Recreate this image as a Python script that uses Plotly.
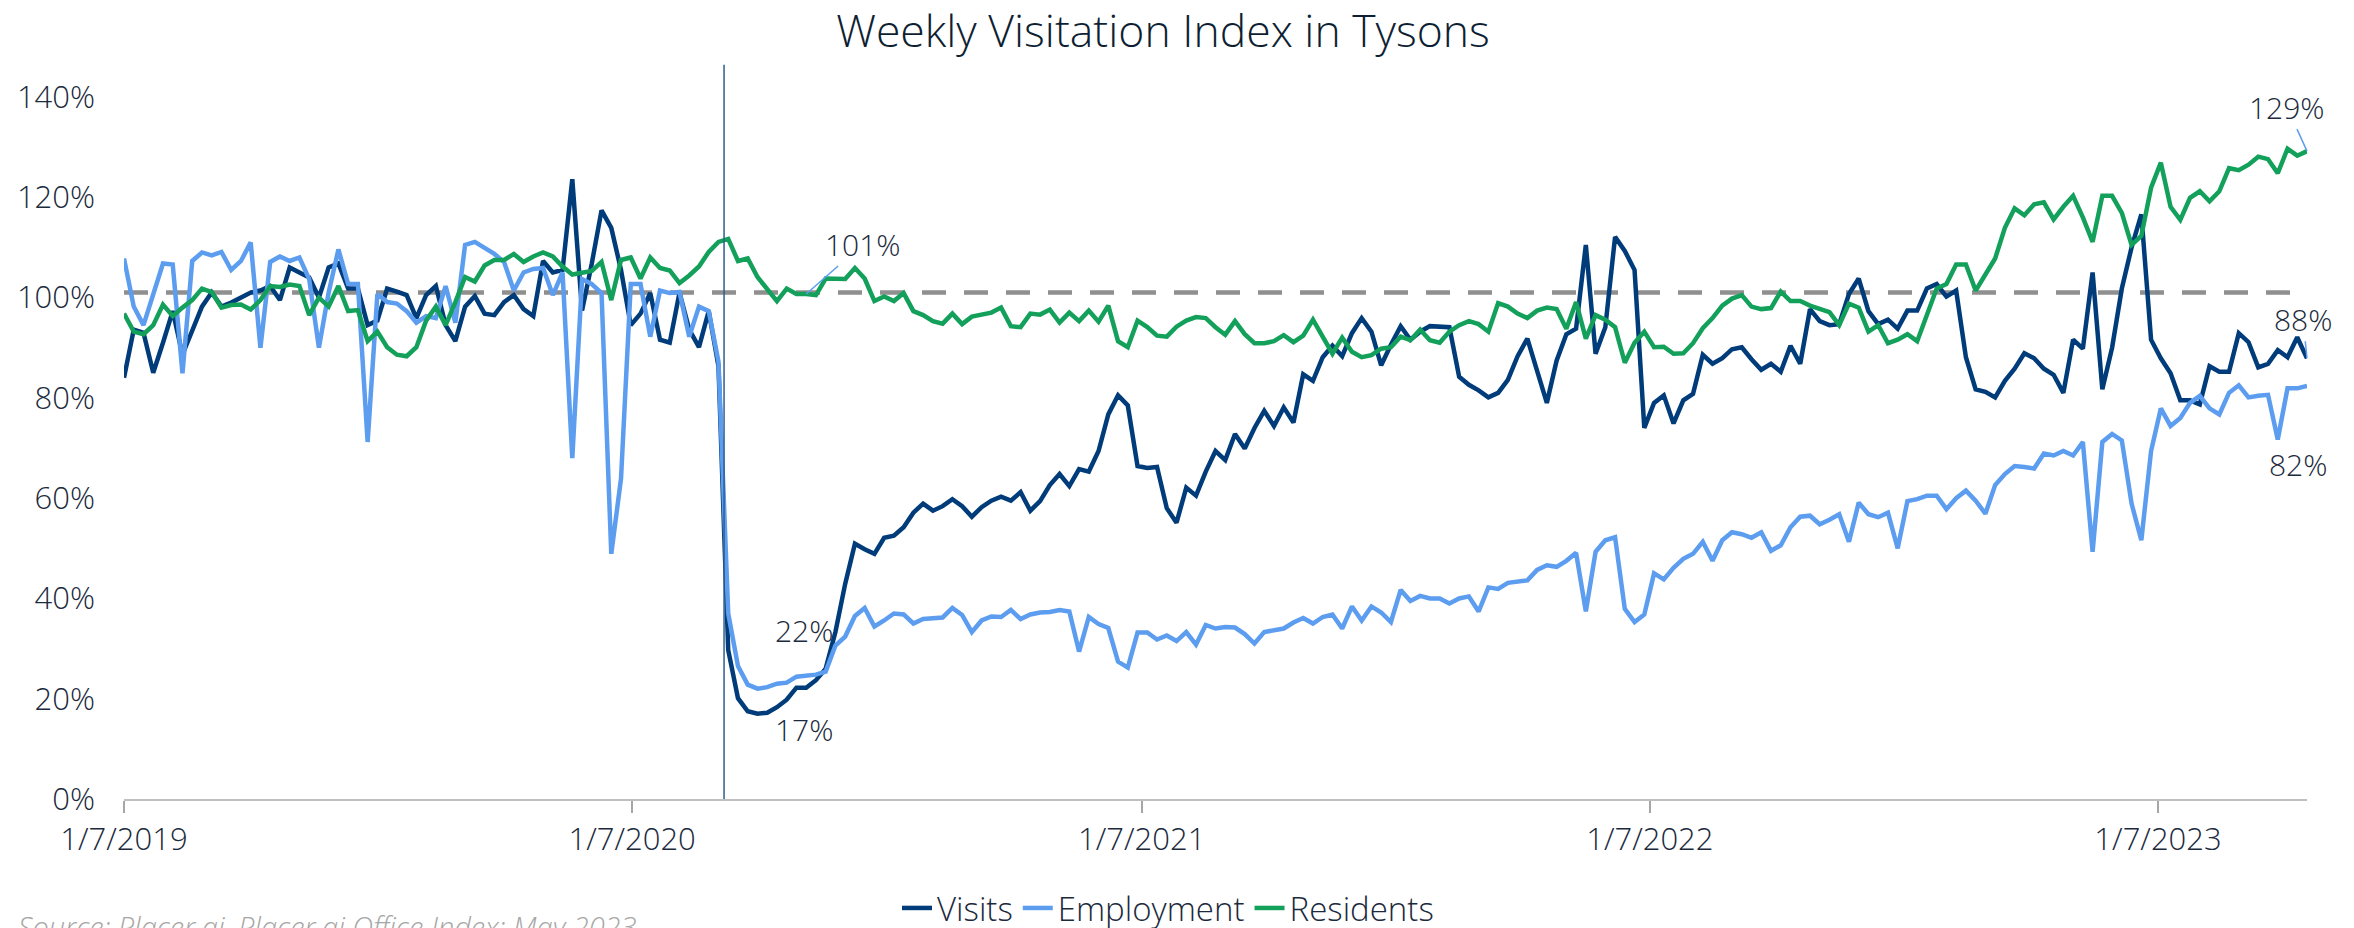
import pandas as pd
import plotly.graph_objects as go

START_DATE = "2019-01-07"

VISITS = [
    84, 93.6, 93, 85, 91, 97.3, 88.6, 93.6, 98.2, 101, 98.2, 99, 100, 101, 101.4, 102.3, 99.5, 106, 105, 104,
    100, 106, 106.8, 101.8, 101.8, 94.5, 95.4, 101.8, 101.2, 100.5, 95.9, 100.5, 102.3, 94.5, 91.3, 98.2, 100.3, 96.8, 96.5, 99.1,
    100.5, 97.7, 96.3, 107.3, 105, 105.5, 123.6, 97.4, 106.8, 117.4, 113.9, 105.5, 94.5, 96.8, 100.9, 91.6, 91, 101, 93.6, 90.1,
    97.3, 86.3, 29.7, 20.1, 17.5, 17, 17.2, 18.3, 19.8, 22.2, 22.2, 23.7, 26, 33.3, 42.9, 50.9, 49.8, 48.9, 52.1, 52.5,
    54.2, 57.1, 58.9, 57.5, 58.4, 59.8, 58.4, 56.3, 58.2, 59.5, 60.3, 59.5, 61.2, 57.5, 59.4, 62.6, 64.8, 62.4, 65.8, 65.3,
    69.4, 76.7, 80.5, 78.5, 66.4, 66, 66.2, 58, 55.1, 62.1, 60.5, 65.3, 69.4, 67.6, 72.8, 69.9, 74, 77.4, 74.4, 78.1,
    75.1, 84.7, 83.4, 88.1, 90.4, 88.3, 92.9, 95.9, 93.2, 86.5, 90.6, 94.3, 91.6, 93.2, 94.3, 94.1, 94.1, 84.2, 82.6, 81.5,
    80.1, 81, 83.6, 88.3, 91.8, 85.4, 79, 87.4, 92.7, 93.8, 110.5, 88.8, 94.1, 112.1, 109.3, 105.5, 74, 79, 80.5, 74.9,
    79.5, 80.8, 88.6, 86.8, 87.9, 89.7, 90.1, 87.7, 85.6, 86.8, 85.2, 90.4, 86.8, 97.7, 95.3, 94.5, 94.7, 100.7, 103.8, 97.3,
    94.7, 95.6, 93.8, 97.4, 97.4, 101.8, 102.7, 100.2, 101.4, 88.1, 81.7, 81.2, 80.1, 83.4, 85.8, 88.9, 87.9, 85.8, 84.6, 81,
    91.6, 89.8, 105, 81.7, 90, 101.8, 110, 116.6, 91.6, 87.9, 84.9, 79.5, 79.5, 78.7, 86.3, 85.2, 85.2, 92.9, 91.1, 86.1,
    86.8, 89.5, 88.1, 92.1, 87.9,
]

EMPLOYMENT = [
    107.8, 98.2, 94.5, 100.9, 106.8, 106.6, 84.9, 107.3, 109, 108.4, 109.1, 105.5, 107.3, 111, 90, 107.1, 108.2, 107.3, 108, 103.7,
    90, 101, 109.6, 102.7, 102.7, 71.2, 100.7, 99.1, 98.8, 97.3, 95, 96.3, 95.9, 102.3, 95, 110.5, 111.1, 109.9, 108.7, 107.1,
    101.4, 105, 105.7, 105.9, 100.5, 105, 68, 103.7, 102.7, 100.9, 48.9, 63.9, 102.7, 102.7, 92.2, 101.4, 100.9, 101.1, 92.2, 98.2,
    97.3, 87.2, 37, 26.5, 22.8, 22, 22.3, 23, 23.2, 24.4, 24.5, 24.8, 25.4, 30.6, 32.4, 36.5, 38.1, 34.4, 35.6, 37,
    36.8, 35, 35.9, 36.1, 36.2, 38.1, 36.7, 33.3, 35.6, 36.4, 36.3, 37.7, 35.9, 36.8, 37.2, 37.3, 37.7, 37.4, 29.4, 36.3,
    34.9, 34.1, 27.4, 26.2, 33.2, 33.2, 31.8, 32.6, 31.5, 33.3, 30.8, 34.7, 34, 34.3, 34.2, 32.9, 31, 33.3, 33.6, 34,
    35.2, 36.1, 35, 36.3, 36.8, 34, 38.4, 35.6, 38.4, 37.2, 35.3, 41.7, 39.5, 40.5, 40, 40, 39, 40, 40.4, 37.4,
    42.2, 41.9, 43.1, 43.3, 43.6, 45.7, 46.6, 46.3, 47.5, 49.1, 37.4, 49.3, 51.6, 52.2, 37.9, 35.3, 36.8, 45, 43.8, 46.1,
    47.9, 48.9, 51.3, 47.5, 51.6, 53.2, 52.8, 52.1, 53.2, 49.5, 50.6, 54.2, 56.3, 56.5, 54.8, 55.7, 56.8, 51.3, 59.1, 56.8,
    56.2, 57.1, 50, 59.4, 59.8, 60.5, 60.5, 57.8, 60, 61.5, 59.5, 56.9, 62.6, 64.8, 66.4, 66.2, 65.9, 68.9, 68.5, 69.4,
    68.5, 71.2, 49.3, 71.2, 72.8, 71.5, 58.9, 51.6, 69.4, 77.9, 74.4, 76, 79, 80.4, 77.9, 76.7, 81, 82.5, 80.1, 80.4,
    80.6, 71.7, 81.9, 81.9, 82.4,
]

RESIDENTS = [
    96.8, 93.2, 92.7, 94.5, 98.6, 96.3, 98, 99.5, 101.8, 101.1, 98, 98.5, 98.6, 97.6, 99.5, 102.3, 102.1, 102.6, 102.3, 96.5,
    100, 98.2, 102.3, 97.3, 97.5, 91.3, 93.2, 90.1, 88.6, 88.3, 90.1, 95.4, 98.2, 94.5, 99.1, 104.1, 103.2, 106.4, 107.5, 107.5,
    108.7, 107.1, 108.2, 109, 108.2, 106.2, 104.6, 105, 105.3, 107.1, 99.5, 107.5, 108, 103.8, 108, 105.9, 105.4, 102.9, 104.4, 106.2,
    109.1, 111.1, 111.7, 107.3, 107.8, 104.1, 101.8, 99.3, 101.8, 100.7, 100.7, 100.5, 103.8, 103.7, 103.7, 105.9, 103.8, 99.3, 100.2, 99.3,
    100.9, 97.3, 96.5, 95.3, 94.8, 96.8, 94.7, 96.2, 96.5, 97, 98, 94.3, 94.1, 96.8, 96.6, 97.6, 95, 97, 95.3, 97.4,
    95.2, 98.4, 91.3, 90.1, 95.4, 94.1, 92.4, 92.2, 94.2, 95.4, 96.1, 95.9, 94.1, 92.6, 95.3, 92.7, 90.9, 90.9, 91.3, 92.5,
    91.1, 92.4, 95.6, 92.2, 88.8, 92, 89.2, 88.1, 88.5, 89.8, 90.1, 92.2, 91.5, 93.6, 91.5, 91, 93.2, 94.5, 95.3, 94.7,
    93.2, 98.9, 98.2, 96.8, 95.9, 97.4, 98, 97.7, 93.8, 99.1, 91.8, 96.5, 95.6, 94.1, 87, 91, 93.2, 90.1, 90.2, 88.8,
    88.9, 90.9, 93.9, 95.9, 98.4, 99.8, 100.5, 98.2, 97.7, 97.9, 101.2, 99.3, 99.3, 98.4, 97.7, 97.1, 94.5, 98.8, 98, 93.2,
    94.5, 90.9, 91.6, 92.7, 91.3, 96.5, 101.8, 102.7, 106.6, 106.6, 101.4, 104.6, 107.8, 113.9, 117.8, 116.4, 118.6, 119, 115.6, 118.1,
    120.3, 116, 111.1, 120.3, 120.3, 116.9, 110.5, 112.3, 121.9, 126.9, 118.1, 115.5, 119.9, 121.2, 119.2, 121.2, 125.8, 125.4, 126.5, 128.1,
    127.6, 124.8, 129.7, 128.3, 129.2,
]

BASELINE = 101
EVENT_DATE = "2020-03-13"
TICK_DATES = ["2019-01-07", "2020-01-07", "2021-01-07", "2022-01-07", "2023-01-07"]
TICK_LABELS = ["1/7/2019", "1/7/2020", "1/7/2021", "1/7/2022", "1/7/2023"]
Y_TICKS = [0, 20, 40, 60, 80, 100, 120, 140]
Y_LABELS = ["0%", "20%", "40%", "60%", "80%", "100%", "120%", "140%"]

C_VISITS = "#003B7A"
C_EMPL = "#5C9DF0"
C_RES = "#13A05B"
TEXT = "#1B2A3D"
FONT = "Open Sans"

# the page puts the figure 8px in from the window's top-left corner
W, H = 2354, 928
ML, MR, MT, MB = 116, 55, 89, 137
PW, PH = W - ML - MR, H - MT - MB

dates = pd.date_range(START_DATE, periods=len(VISITS), freq="7D")

fig = go.Figure()
for name, vals, col in [("Visits", VISITS, C_VISITS),
                        ("Employment", EMPLOYMENT, C_EMPL),
                        ("Residents", RESIDENTS, C_RES)]:
    fig.add_trace(go.Scatter(x=dates, y=vals, mode="lines", name=name,
                             line=dict(color=col, width=4.5)))

fig.add_hline(y=BASELINE, line=dict(color="#8F8F8F", width=4.5, dash="24px,18px"), layer="below")

fig.add_shape(type="line", xref="x", yref="paper", x0=EVENT_DATE, x1=EVENT_DATE, y0=0, y1=1.046,
              line=dict(color="#2F5E8E", width=1.5))

afont = dict(family=FONT, size=30, color=TEXT, weight=300)
last = len(VISITS) - 1
lo = 65
# labels with leader lines
for x, y, t, ax, ay in [(dates[70], RESIDENTS[70], "101%", 57, -50),
                        (dates[last], RESIDENTS[last], "129%", -20, -44),
                        (dates[last], VISITS[last], "88%", -4, -39)]:
    fig.add_annotation(x=x, y=y, text=t, showarrow=True, arrowhead=0, arrowwidth=1.5,
                       arrowcolor=C_EMPL, ax=ax, ay=ay, font=afont, standoff=0)
for x, y, t, xs, ys in [(dates[lo], EMPLOYMENT[lo], "22%", 47, 58),
                        (dates[lo], VISITS[lo], "17%", 47, -16),
                        (dates[last], EMPLOYMENT[last], "82%", -9, -79)]:
    fig.add_annotation(x=x, y=y, text=t, showarrow=False, xshift=xs, yshift=ys, font=afont)

# source note, sitting at the very bottom edge as in the original
fig.add_annotation(xref="paper", yref="paper", x=(8 - ML) / PW, y=(H - MB - 897) / PH,
                   xanchor="left", yanchor="top",
                   text="Source: Placer.ai, Placer.ai Office Index; May 2023", showarrow=False,
                   font=dict(family=FONT, size=29, color="#A6A6A6", style="italic", weight=300))

fig.update_layout(
    width=W, height=H,
    margin=dict(l=ML, r=MR, t=MT, b=MB, autoexpand=False),
    paper_bgcolor="white", plot_bgcolor="white",
    font=dict(family=FONT, color=TEXT, weight=300),
    title=dict(text="Weekly Visitation Index in Tysons", xref="container", x=1155 / W, xanchor="center",
               yref="container", y=1 - 23 / H, yanchor="middle",
               font=dict(family=FONT, size=44.5, color="#0F1F33", weight=300)),
    showlegend=True,
    legend=dict(orientation="h", xref="container", x=1160 / W, xanchor="center",
                yref="container", y=1 - 900 / H, yanchor="middle",
                font=dict(family=FONT, size=33, color=TEXT, weight=300), bgcolor="rgba(0,0,0,0)"),
    xaxis=dict(type="date", range=[dates[0], dates[last]], tickvals=TICK_DATES, ticktext=TICK_LABELS,
               showgrid=False, zeroline=False, showline=True, linecolor="#BFBFBF", linewidth=2,
               ticks="outside", ticklen=12, tickwidth=1.5, tickcolor="#A6A6A6", automargin=False,
               tickfont=dict(family=FONT, size=31, color=TEXT, weight=300), ticklabelstandoff=0),
    yaxis=dict(range=[0, 140], tickvals=Y_TICKS, ticktext=Y_LABELS, showgrid=False, zeroline=False,
               showline=False, ticks="", automargin=False,
               tickfont=dict(family=FONT, size=31, color=TEXT, weight=300),
               ticklabelstandoff=28),
)

fig.write_html("out.html")
